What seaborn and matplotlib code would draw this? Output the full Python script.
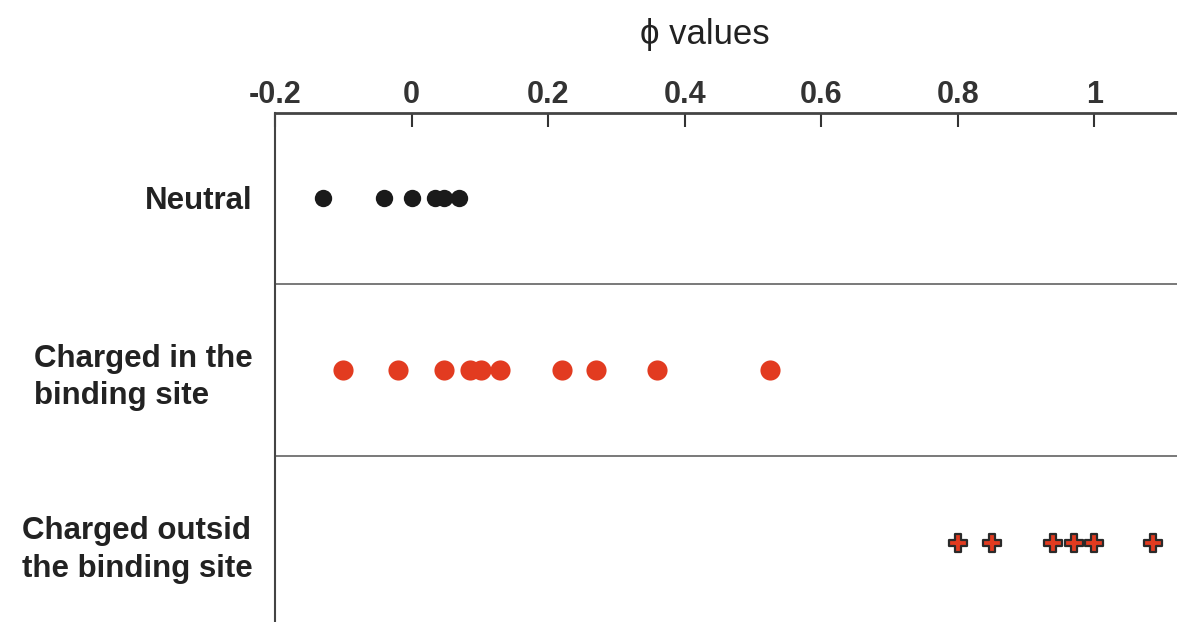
import seaborn as sns
import numpy as np
import matplotlib.pyplot as plt

# data
categories = ["Neutral", "Charged in the\nbinding site", "Charged outsid\nthe binding site"]
neutral = [-0.13, -0.04, 0.0, 0.035, 0.048, 0.069]
charged_in = [-0.10, -0.02, 0.048, 0.085, 0.102, 0.13, 0.22, 0.27, 0.36, 0.525]
charged_out = [0.80, 0.85, 0.94, 0.97, 1.0, 1.086]
xticks = [-0.2, 0, 0.2, 0.4, 0.6, 0.8, 1]
xticklabels = ["-0.2", "0", "0.2", "0.4", "0.6", "0.8", "1"]

red = "#e23b20"

sns.set_style("white")
plt.rcParams['font.family'] = ['Liberation Sans', 'DejaVu Sans']

fig = plt.figure(figsize=(11.77, 6.22), dpi=100)
ax = fig.add_axes([275 / 1177, 0, 1 - 275 / 1177, 1 - 113 / 622])

groups = [
    (neutral, categories[0], "o", "#1a1a1a", 12.5, 0, "#1a1a1a"),
    (charged_in, categories[1], "o", red, 14.5, 0, red),
    (charged_out, categories[2], "P", red, 12.5, 1.6, "#2a2a2a"),
]
for vals, cat, mk, col, sz, lw, ec in groups:
    sns.stripplot(x=vals, y=[cat] * len(vals), order=categories, orient="h",
                  jitter=False, marker=mk, color=col, size=sz,
                  linewidth=lw, edgecolor=ec, ax=ax, zorder=3)

# separators between groups
for yy in [0.5, 1.5]:
    ax.axhline(yy, color="#555555", lw=1.1, zorder=1)

ax.set_xlim(-0.198, 1.121)
ax.set_ylim(2.46, -0.49)

ax.xaxis.tick_top()
ax.set_xticks(xticks)
ax.set_xticklabels(xticklabels, fontsize=22, fontweight="bold", color="#222222")
ax.tick_params(axis="x", direction="in", length=10, width=1.5, pad=2, colors="#333333")
ax.tick_params(axis="y", direction="in", length=10, width=1.3, pad=16, colors="#333333")
for lab in ax.get_yticklabels():
    lab.set_fontsize(22.5)
    lab.set_fontweight("bold")
    lab.set_color("#222222")
    lab.set_multialignment("left")
    lab.set_linespacing(1.33)

ax.xaxis.set_label_position("top")
ax.set_xlabel("ϕ values", fontsize=25, color="#222222")
ax.xaxis.set_label_coords((705 - 275) / 902, 1 + (113 - 44) / 509, transform=ax.transAxes)
ax.set_ylabel("")

for side in ["right", "bottom"]:
    ax.spines[side].set_visible(False)
ax.spines["top"].set_linewidth(2)
ax.spines["left"].set_linewidth(1.5)
ax.spines["top"].set_color("#444444")
ax.spines["left"].set_color("#444444")

fig.savefig("out.png", dpi=100)
